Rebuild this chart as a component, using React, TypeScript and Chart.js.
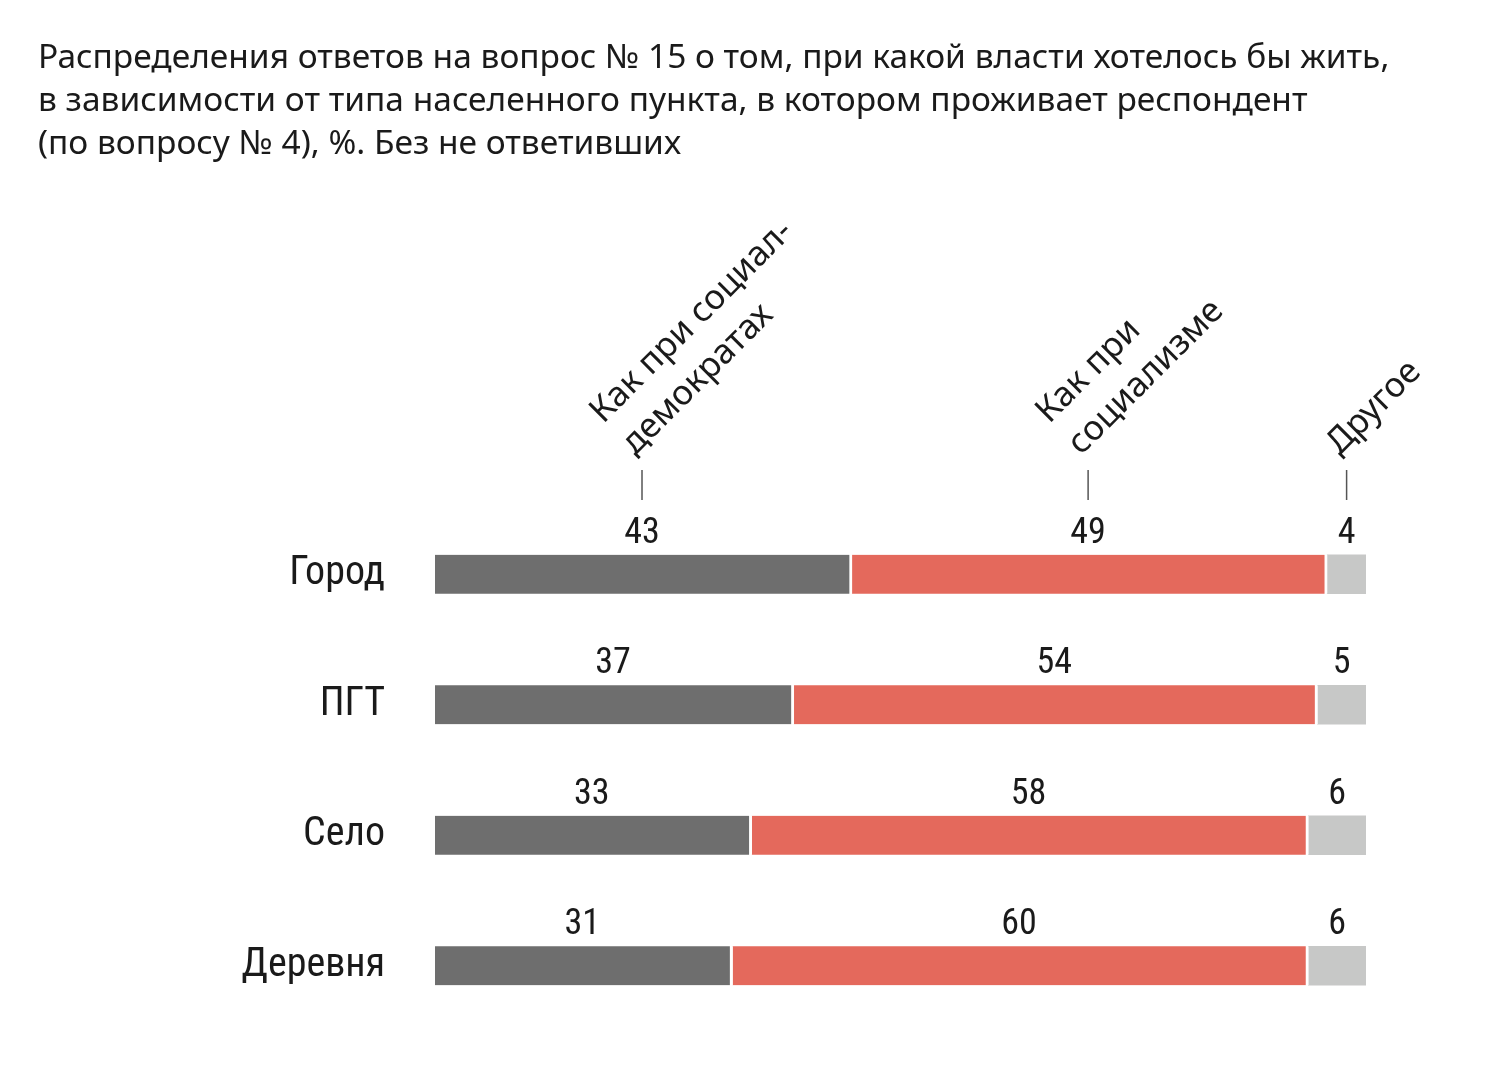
import React, { useEffect, useRef } from "react";
import { Chart, registerables } from "chart.js";

Chart.register(...registerables);

const titleLines = [
  "Распределения ответов на вопрос № 15 о том, при какой власти хотелось бы жить,",
  "в зависимости от типа населенного пункта, в котором проживает респондент",
  "(по вопросу № 4), %. Без не ответивших",
];
const categories = ["Город", "ПГТ", "Село", "Деревня"];
const seriesNames = [["Как при социал-", "демократах"], ["Как при", "социализме"], ["Другое"]];
const socialDemocrats = [43, 37, 33, 31];
const socialism = [49, 54, 58, 60];
const other = [4, 5, 6, 6];
const seriesColors = ["#6e6e6e", "#e4695c", "#c7c8c7"];

const rawSeries = [socialDemocrats, socialism, other];
const totals = categories.map((_, i) => rawSeries.reduce((s, arr) => s + arr[i], 0));
const shares = rawSeries.map((arr) => arr.map((v, i) => (v / totals[i]) * 100));

const HUMANIST = '"Noto Sans", "Open Sans", sans-serif';
const NARROW = '"Roboto Condensed", "DejaVu Sans Condensed", Roboto, sans-serif';

const overlayPlugin = {
  id: "overlay",
  afterDraw(chart: any) {
    const ctx = chart.ctx;
    ctx.save();
    // title
    ctx.fillStyle = "#1a1a1a";
    ctx.font = `33.5px ${HUMANIST}`;
    ctx.textAlign = "left";
    ctx.textBaseline = "alphabetic";
    titleLines.forEach((line, i) => ctx.fillText(line, 38, 68 + i * 43));

    // value labels
    ctx.font = `36px ${NARROW}`;
    ctx.textAlign = "center";
    rawSeries.forEach((arr, di) => {
      const meta = chart.getDatasetMeta(di);
      meta.data.forEach((el: any, j: number) => {
        const p = el.getProps(["x", "base", "y", "height"], true);
        const right = di < rawSeries.length - 1 ? p.x - 3 : p.x;
        const cx = (p.base + right) / 2;
        const top = p.y - p.height / 2;
        ctx.fillStyle = "#1a1a1a";
        ctx.fillText(String(arr[j]), cx, top - 12);
      });
    });

    // column headers over first row
    rawSeries.forEach((_, di) => {
      const el: any = chart.getDatasetMeta(di).data[0];
      const p = el.getProps(["x", "base"], true);
      const right = di < rawSeries.length - 1 ? p.x - 3 : p.x;
      const cx = (p.base + right) / 2;
      ctx.strokeStyle = "#555555";
      ctx.lineWidth = 1.5;
      ctx.beginPath();
      ctx.moveTo(cx, 470);
      ctx.lineTo(cx, 500);
      ctx.stroke();
      const lines = seriesNames[di];
      ctx.save();
      ctx.translate(cx - 7, 456);
      ctx.rotate(-Math.PI / 4);
      ctx.font = `34.5px ${HUMANIST}`;
      ctx.textAlign = "left";
      ctx.fillStyle = "#1a1a1a";
      const lh = 45;
      lines.forEach((ln, k) => ctx.fillText(ln, 0, -(lines.length - 1 - k) * lh));
      ctx.restore();
    });
    ctx.restore();
  },
};

export default function App() {
  const ref = useRef<HTMLCanvasElement | null>(null);
  useEffect(() => {
    document.body.style.margin = "0";
    const canvas = ref.current!;
    const chart = new Chart(canvas, {
      type: "bar",
      data: {
        labels: categories,
        datasets: shares.map((data, di) => ({
          label: seriesNames[di].join(" "),
          data,
          backgroundColor: seriesColors[di],
          borderColor: "#ffffff",
          borderWidth: di < shares.length - 1 ? { right: 3, left: 0, top: 0, bottom: 0 } : 0,
          borderSkipped: false,
          barThickness: 39,
        })),
      },
      options: {
        indexAxis: "y",
        responsive: false,
        animation: false,
        devicePixelRatio: 1,
        layout: { padding: { top: 509, bottom: 49, left: 0, right: 138 } },
        plugins: {
          legend: { display: false },
          tooltip: { enabled: false },
          title: { display: false },
        },
        scales: {
          x: { stacked: true, min: 0, max: 100, display: false },
          y: {
            stacked: true,
            grid: { display: false, drawTicks: false },
            border: { display: false },
            ticks: {
              padding: 50,
              color: "#1a1a1a",
              font: { family: NARROW, size: 40 },
            },
            afterFit(scale: any) {
              scale.width = 435;
              scale.paddingTop = 0;
              scale.paddingBottom = 0;
            },
          },
        },
      },
      plugins: [overlayPlugin],
    } as any);
    return () => chart.destroy();
  }, []);
  return (
    <div style={{ width: 1504, height: 1080, background: "#ffffff" }}>
      <canvas ref={ref} width={1504} height={1080} style={{ display: "block" }} />
    </div>
  );
}
